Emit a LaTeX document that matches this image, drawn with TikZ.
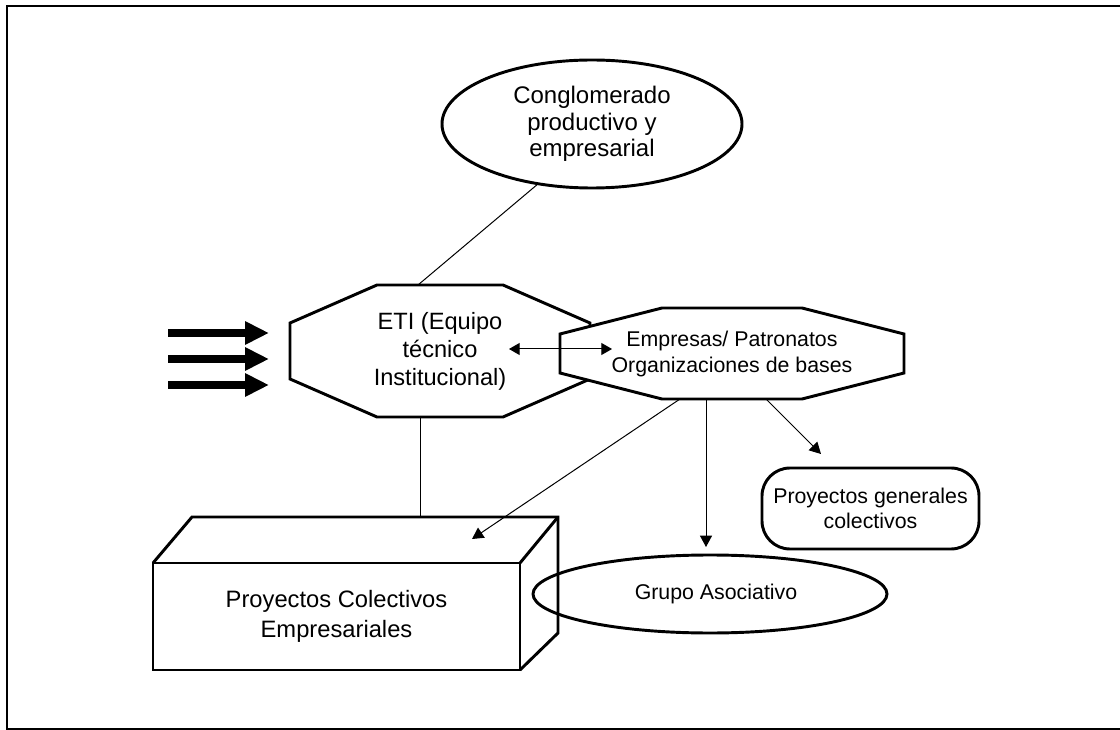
\documentclass[tikz,border=0pt]{standalone}
\usepackage{fontspec}
\setmainfont{Liberation Sans}
\usetikzlibrary{shapes.geometric,arrows.meta,calc,backgrounds}
\begin{document}
\begin{tikzpicture}[x=0.75pt,y=-0.75pt,
  outline/.style={line width=2.2pt, line join=miter},
  conn/.style={line width=0.75pt},
  arr/.style={conn,-{Triangle[length=8.5pt,width=9pt]}},
  dblarr/.style={conn,{Triangle[length=8pt,width=9pt]}-{Triangle[length=8pt,width=9pt]}},
  bigarr/.style={line width=6pt,-{Triangle[length=18pt,width=16.5pt]}},
  txt/.style={font=\fontsize{16}{20}\selectfont, align=center, inner sep=0pt, outer sep=0pt},
]
\useasboundingbox (0,0) rectangle (1120,730);
% frame
\draw[outline] (1130,6) -- (7,6) -- (7,729) -- (1130,729);

% nodes
\node[txt, font=\fontsize{18}{20}\selectfont, ellipse, draw, outline, minimum width=225pt, minimum height=96pt] (cong) at (592,124)
  {Conglomerado\\productivo y\\empresarial};
\node[txt, font=\fontsize{17.7}{21}\selectfont, minimum width=225pt, minimum height=99pt] (eti) at (440,351)
  {ETI (Equipo\\técnico\\Institucional)};
\node[txt, font=\fontsize{16}{19.5}\selectfont, minimum width=258pt, minimum height=68.25pt] (emp) at (732,353.5)
  {Empresas/ Patronatos\\Organizaciones de bases};
\node[txt, font=\fontsize{17.8}{22}\selectfont, draw, outline, minimum width=275.25pt, minimum height=80.25pt] (pce) at (336.5,616.5)
  {Proyectos Colectivos\\Empresariales};
\node[txt, ellipse, draw, outline, minimum width=265.5pt, minimum height=58.5pt] (grupo) at (710,594)
  {\hspace*{9pt}Grupo Asociativo};
\node[txt, font=\fontsize{16}{19}\selectfont, draw, outline, rounded corners=21pt, minimum width=162.75pt, minimum height=60.75pt] (pgc) at (870.5,508.5)
  {Proyectos generales\\colectivos};

% octagons
\begin{scope}[on background layer]
\draw[outline, fill=white] ($(eti.north west)+(87,0)$) -- ($(eti.north east)+(-87,0)$) -- ($(eti.north east)+(0,38)$) -- ($(eti.south east)+(0,-38)$) -- ($(eti.south east)+(-87,0)$) -- ($(eti.south west)+(87,0)$) -- ($(eti.south west)+(0,-38)$) -- ($(eti.north west)+(0,38)$) -- cycle;
\draw[outline, fill=white] ($(emp.north west)+(102,0)$) -- ($(emp.north east)+(-102,0)$) -- ($(emp.north east)+(0,26)$) -- ($(emp.south east)+(0,-26)$) -- ($(emp.south east)+(-102,0)$) -- ($(emp.south west)+(102,0)$) -- ($(emp.south west)+(0,-26)$) -- ($(emp.north west)+(0,26)$) -- cycle;
\end{scope}

% 3D box faces
\draw[outline] (pce.north west) -- ++(39,-46) coordinate (btl) -- ++(366,0) coordinate (btr) -- ++(0,116) -- (pce.south east);
\draw[outline] (pce.north east) -- (btr);

% connectors
\draw[conn] (cong.228) -- ($(eti.north west)+(128,0)$);
\coordinate (etib) at ($(eti.south)+(-20,0)$);
\draw[conn] (etib) -- (etib |- btl);
\draw[dblarr] ($(eti.center)+(69,-2)$) -- ($(emp.center)+(-120,-4.5)$);
\coordinate (pcetip) at (472,539);
\draw[arr] ($(emp.south)+(-52,0)$) -- (pcetip);
\coordinate (vtop) at ($(emp.south)+(-26,0)$);
\draw[arr, shorten >=6pt] (vtop) -- (vtop |- grupo.north);
\coordinate (ptip) at (821,454);
\draw[arr] ($(emp.south)+(34,0)$) -- (ptip);

% thick input arrows
\coordinate (a1s) at (168,333); \coordinate (a1e) at (269,333);
\coordinate (a2s) at (168,359); \coordinate (a2e) at (269,359);
\coordinate (a3s) at (168,385); \coordinate (a3e) at (269,385);
\draw[bigarr] (a1s) -- (a1e);
\draw[bigarr] (a2s) -- (a2e);
\draw[bigarr] (a3s) -- (a3e);
\end{tikzpicture}
\end{document}
